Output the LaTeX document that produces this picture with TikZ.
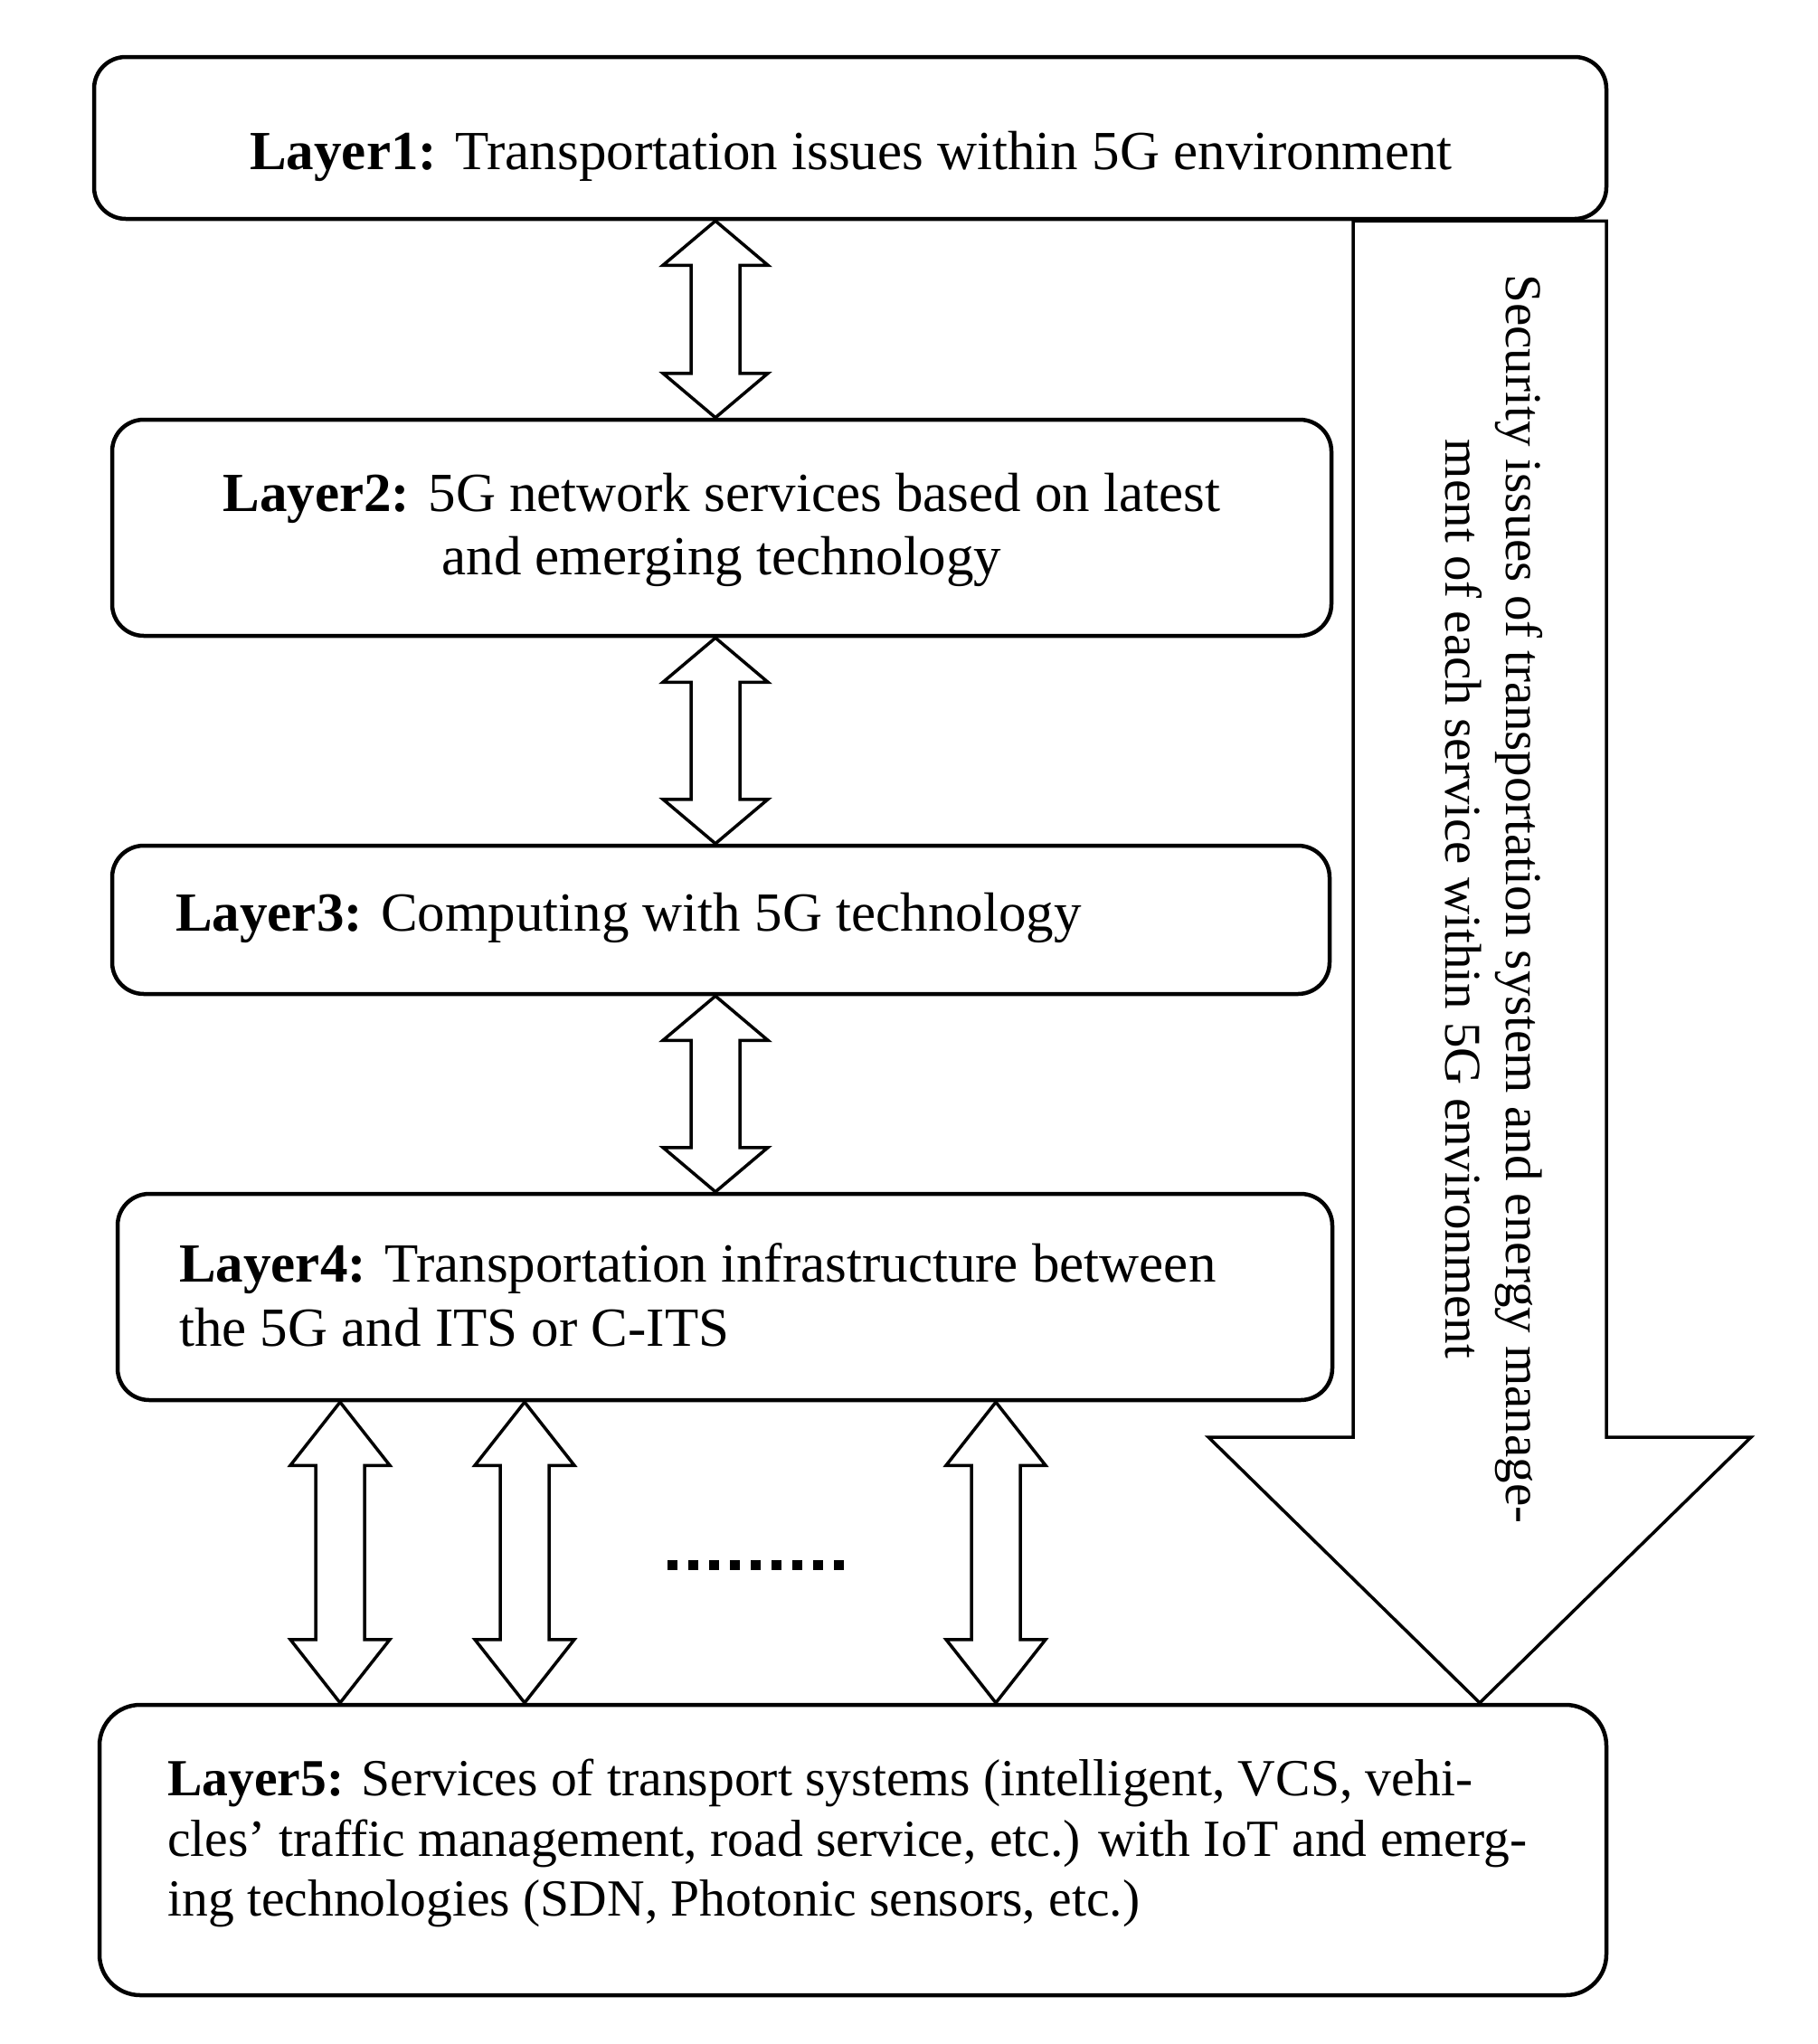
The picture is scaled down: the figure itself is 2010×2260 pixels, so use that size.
\documentclass[tikz,border=0pt]{standalone}
\usepackage{fontspec}
\setmainfont{Liberation Serif}
\usetikzlibrary{calc}
\tikzset{
  layerbox/.style={draw, line width=4.5pt, rounded corners=35pt, inner sep=0pt},
  fatarrow/.style={draw, line width=3.5pt, line join=miter, fill=white},
  bigtxt/.style={font=\fontsize{61}{73}\selectfont, inner sep=0pt},
  midtxt/.style={font=\fontsize{57.6}{70}\selectfont, inner sep=0pt},
  sidetxt/.style={font=\fontsize{57}{69}\selectfont, inner sep=0pt, rotate=-90, anchor=base},
  dotrow/.style={line width=11pt, dash pattern=on 11pt off 12pt}
}
% #1 top node, #2 bottom node, #3 x coordinate, #4 head half width, #5 head length
\newcommand\dblarr[5]{%
  \draw[fatarrow] (#1.south -| #3) -- ++(#4,#5) -- ++({27-#4},0)
    -- ($(#2.north -| #3)+(27,-#5)$) -- ++({#4-27},0) -- (#2.north -| #3)
    -- ++(-#4,-#5) -- ++({#4-27},0)
    -- ($(#1.south -| #3)+(-27,#5)$) -- ++({27-#4},0) -- cycle;}
\begin{document}
\begin{tikzpicture}[x=1pt,y=-1pt]
\useasboundingbox (0,0) rectangle (2010,2260);
% layer boxes
\node[layerbox, minimum width=1672pt, minimum height=179pt] (L1) at (940,152.5) {};
\node[layerbox, minimum width=1348pt, minimum height=239pt] (L2) at (798,583.5) {};
\node[layerbox, minimum width=1346pt, minimum height=164pt] (L3) at (797,1017) {};
\node[layerbox, minimum width=1343pt, minimum height=228pt] (L4) at (801.5,1434) {};
\node[layerbox, rounded corners=45pt, minimum width=1666pt, minimum height=321pt] (L5) at (943,2045.5) {};
% texts
\node[bigtxt, anchor=base] (t1) at (941,187) {\textbf{Layer1:} Transportation issues within 5G environment};
\node[bigtxt, anchor=base] (t2a) at (798,565) {\textbf{Layer2:} 5G network services based on latest};
\node[bigtxt, anchor=base] (t2b) at (798,635) {and emerging technology};
\node[bigtxt, anchor=base west] (t3) at (194,1029) {\textbf{Layer3:} Computing with 5G technology};
\node[bigtxt, anchor=base west] (t4a) at (198,1417) {\textbf{Layer4:} Transportation infrastructure between};
\node[bigtxt, anchor=base west] (t4b) at (198,1488) {the 5G and ITS or C-ITS};
\node[midtxt, anchor=base west] (t5a) at (185,1985) {\textbf{Layer5:} Services of transport systems (intelligent, VCS, vehi-};
\node[midtxt, anchor=base west] (t5b) at (185,2052) {cles’ traffic management, road service, etc.) with IoT and emerg-};
\node[midtxt, anchor=base west] (t5c) at (185,2118) {ing technologies (SDN, Photonic sensors, etc.)};
% double arrows
\coordinate (ca) at (791,0);
\coordinate (c1) at (376,0);
\coordinate (c2) at (580,0);
\coordinate (c3) at (1101,0);
\dblarr{L1}{L2}{ca}{58}{49}
\dblarr{L2}{L3}{ca}{58}{49}
\dblarr{L3}{L4}{ca}{58}{49}
\dblarr{L4}{L5}{c1}{55}{70}
\dblarr{L4}{L5}{c2}{55}{70}
\dblarr{L4}{L5}{c3}{55}{70}
\coordinate (d0) at (738,1730);
\coordinate (d1) at (933,1730);
\draw[dotrow] (d0) -- (d1);
% big down arrow
\coordinate (sl) at (1496,0);
\coordinate (sr) at (1776,0);
\coordinate (hc) at (1636,0);
\coordinate (hl) at (1336,1589);
\coordinate (hr) at (1936,1589);
\draw[fatarrow] (L1.south -| sl) -- (sl |- hl) -- (hl) -- (L5.north -| hc)
  -- (hr) -- (sr |- hr) -- (L1.south -| sr) -- cycle;
\node[sidetxt] (s1) at (1665,994) {Security issues of transportation system and energy manage-};
\node[sidetxt] (s2) at (1598,994) {ment of each service within 5G environment};
\end{tikzpicture}
\end{document}
